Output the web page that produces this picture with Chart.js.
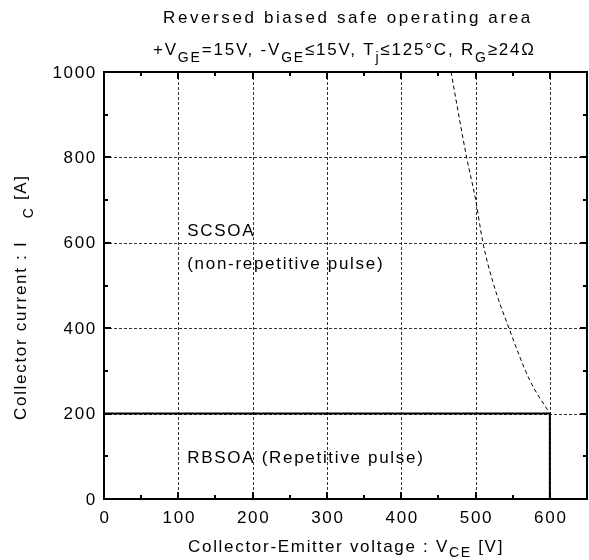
<!DOCTYPE html>
<html><head><meta charset="utf-8">
<script src="https://cdn.jsdelivr.net/npm/chart.js@4/dist/chart.umd.min.js"></script>
<style>html,body{margin:0;padding:0;background:#fff}#w{width:589px;height:560px}</style>
</head><body><div id="w"><canvas id="c" width="589" height="560"></canvas></div>
<script>
// ---- data ----
const xTicks = [0, 100, 200, 300, 400, 500, 600];
const yTicks = [0, 200, 400, 600, 800, 1000];
const xMinor = [50, 150, 250, 350, 450, 550];
const yMinor = [100, 300, 500, 700, 900];
const scsoaV = [467, 488, 500, 510, 523, 545, 573, 600];
const scsoaI = [1000, 800, 702, 600, 510, 400, 278, 200];
const rbsoaV = [0, 600, 600];
const rbsoaI = [200, 200, 0];
const labels = [
  {text: 'SCSOA', v: 112, i: 600, dy: -7},
  {text: '(non-repetitive pulse)', v: 112, i: 600, dy: 26},
  {text: 'RBSOA (Repetitive pulse)', v: 112, i: 100, dy: 7}
];
const titleLine1 = [['Reversed biased safe operating area', 0]];
const titleLine2 = [['+V',0],['GE',1],['=15V, -V',0],['GE',1],['\u226415V, T',0],['j',1],['\u2264125\u00B0C, R',0],['G',1],['\u226524\u03A9',0]];
const xTitle = [['Collector-Emitter voltage : V',0],['CE',1],[' [V]',0]];
const yTitle = [['Collector current : I',0],['    C',1],[' [A]',0]];

const FONT = '"Liberation Sans", Arial, sans-serif';
const FS = 17, SUB = 14;

function rich(ctx, segs, x, y, ls, subDy) { // left-aligned at x, baseline y
  ctx.letterSpacing = ls + 'px';
  ctx.textAlign = 'left';
  ctx.textBaseline = 'alphabetic';
  let cx = x;
  for (const [t, s] of segs) {
    ctx.font = (s ? SUB : FS) + 'px ' + FONT;
    ctx.fillText(t, cx, y + (s ? subDy : 0));
    cx += ctx.measureText(t).width;
  }
}

const deco = {
  id: 'deco',
  beforeDatasetsDraw(chart) {
    const ctx = chart.ctx, a = chart.chartArea;
    const xs = chart.scales.x, ys = chart.scales.y;
    ctx.save();
    ctx.strokeStyle = '#333';
    ctx.lineWidth = 1;
    ctx.setLineDash([3, 2]);
    for (const v of xTicks) {
      if (v === 0) continue;
      const px = Math.round(xs.getPixelForValue(v)) + 0.5;
      ctx.beginPath(); ctx.moveTo(px, a.top); ctx.lineTo(px, a.bottom); ctx.stroke();
    }
    for (const v of yTicks) {
      if (v === 0 || v === 1000) continue;
      const py = Math.round(ys.getPixelForValue(v)) + 0.5;
      ctx.beginPath(); ctx.moveTo(a.left, py); ctx.lineTo(a.right, py); ctx.stroke();
    }
    ctx.restore();
  },
  afterDatasetsDraw(chart) {
    const ctx = chart.ctx, a = chart.chartArea;
    const xs = chart.scales.x, ys = chart.scales.y;
    ctx.save();
    ctx.setLineDash([]);
    ctx.strokeStyle = '#000';
    ctx.lineWidth = 2;
    ctx.strokeRect(a.left, a.top, a.right - a.left, a.bottom - a.top);
    const tick = (px, len, vertical) => {
      ctx.beginPath();
      if (vertical) {
        ctx.moveTo(px, a.bottom); ctx.lineTo(px, a.bottom - len);
        ctx.moveTo(px, a.top); ctx.lineTo(px, a.top + len);
      } else {
        ctx.moveTo(a.left, px); ctx.lineTo(a.left + len, px);
        ctx.moveTo(a.right, px); ctx.lineTo(a.right - len, px);
      }
      ctx.stroke();
    };
    for (const v of xTicks) tick(Math.round(xs.getPixelForValue(v)), 7, true);
    for (const v of xMinor) tick(Math.round(xs.getPixelForValue(v)), 4, true);
    for (const v of yTicks) tick(Math.round(ys.getPixelForValue(v)), 7, false);
    for (const v of yMinor) tick(Math.round(ys.getPixelForValue(v)), 4, false);
    // tick labels
    ctx.fillStyle = '#000';
    ctx.letterSpacing = '1.7px';
    ctx.font = FS + 'px ' + FONT;
    ctx.textAlign = 'center';
    ctx.textBaseline = 'alphabetic';
    for (const v of xTicks) ctx.fillText(String(v), xs.getPixelForValue(v) + 1, a.bottom + 24);
    ctx.textAlign = 'right';
    ctx.textBaseline = 'middle';
    for (const v of yTicks) ctx.fillText(String(v), a.left - 7, ys.getPixelForValue(v) + 1);
    // annotations
    ctx.textAlign = 'left';
    ctx.textBaseline = 'alphabetic';
    for (const l of labels) {
      ctx.fillText(l.text, xs.getPixelForValue(l.v), ys.getPixelForValue(l.i) + l.dy);
    }
    // titles
    rich(ctx, titleLine1, 163, 23, 2.6, 0);
    rich(ctx, titleLine2, 153, 55, 1.8, 7);
    rich(ctx, xTitle, 188, 552, 1.7, 5);
    ctx.save();
    ctx.translate(26, 420);
    ctx.rotate(-Math.PI / 2);
    rich(ctx, yTitle, 0, 0, 1.7, 7);
    ctx.restore();
    ctx.restore();
  }
};

new Chart(document.getElementById('c'), {
  type: 'scatter',
  data: {
    datasets: [
      {
        data: rbsoaV.map((v, k) => ({x: v, y: rbsoaI[k]})),
        showLine: true, borderColor: '#000', borderWidth: 2, pointRadius: 0, tension: 0
      },
      {
        data: scsoaV.map((v, k) => ({x: v, y: scsoaI[k]})),
        showLine: true, borderColor: '#000', borderWidth: 1, borderDash: [4, 3],
        pointRadius: 0, cubicInterpolationMode: 'monotone'
      }
    ]
  },
  options: {
    responsive: false,
    animation: false,
    layout: {padding: {top: 72, right: 2, left: 0, bottom: 0}},
    plugins: {legend: {display: false}, tooltip: {enabled: false}, title: {display: false}},
    scales: {
      x: {
        type: 'linear', min: 0, max: 650,
        afterBuildTicks: s => { s.ticks = xTicks.map(v => ({value: v})); },
        afterFit: s => { s.height = 61; },
        ticks: {display: false}, grid: {display: false}, border: {display: false}
      },
      y: {
        type: 'linear', min: 0, max: 1000,
        afterBuildTicks: s => { s.ticks = yTicks.map(v => ({value: v})); },
        afterFit: s => { s.width = 104; },
        ticks: {display: false}, grid: {display: false}, border: {display: false}
      }
    }
  },
  plugins: [deco]
});
</script>
</body></html>
